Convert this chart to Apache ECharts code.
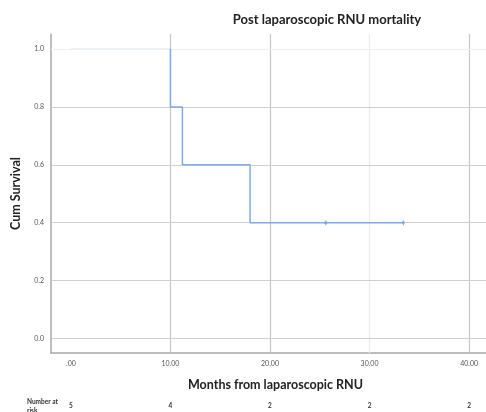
<!DOCTYPE html>
<html><head><meta charset="utf-8">
<script src="https://cdn.jsdelivr.net/npm/echarts@6/dist/echarts.min.js"></script>
<style>html,body{margin:0;padding:0;background:#fff}#c{width:486px;height:412px}</style>
</head><body><div id="c"></div>
<script>
// Kaplan-Meier step points (months, cumulative survival)
var survTimes = [0, 10, 10, 11.2, 11.2, 18, 18, 25.6, 33.4];
var survValues = [1.0, 1.0, 0.8, 0.8, 0.6, 0.6, 0.4, 0.4, 0.4];
// censored observations
var censorTimes = [25.6, 33.4];
var censorValues = [0.4, 0.4];
// axis ticks
var xTicks = [0, 10, 20, 30, 40];
var xTickLabels = ['.00', '10.00', '20.00', '30.00', '40.00'];
var yTicks = [0, 0.2, 0.4, 0.6, 0.8, 1.0];
var yTickLabels = ['0.0', '0.2', '0.4', '0.6', '0.8', '1.0'];
// number at risk under each x tick
var atRisk = ['5', '4', '2', '2', '2'];

var vGridColors = {0: 'rgba(0,0,0,0)', 10: '#c6c6c6', 20: '#c6c6c6', 30: '#ececec', 40: '#c6c6c6'};

var curve = survTimes.map(function (t, i) { return [t, survValues[i]]; });
var chart = echarts.init(document.getElementById('c'));
var FONT = 'Lato';
chart.setOption({
  animation: false,
  backgroundColor: '#fff',
  grid: {left: 51, top: 34, right: 0, bottom: 59},
  graphic: [
    {type: 'text', x: 327, y: 13, style: {text: 'Post laparoscopic RNU mortality', fontFamily: FONT, fontWeight: 'bold', fontSize: 13, fill: '#222', textAlign: 'center'}},
    {type: 'text', x: 27, y: 397, style: {text: 'Number at\nrisk', fontFamily: FONT, fontWeight: 'bold', fontSize: 6.5, lineHeight: 9, fill: '#333'}}
  ],
  xAxis: [{
    type: 'value', min: -2, max: 41.7,
    name: 'Months from laparoscopic RNU', nameLocation: 'middle', nameGap: 25,
    nameTextStyle: {fontFamily: FONT, fontWeight: 'bold', fontSize: 12.5, color: '#222', padding: [0, 0, 0, 14]},
    axisLine: {show: true, onZero: false, lineStyle: {color: '#a8a8a8', width: 1.5}},
    axisTick: {show: false},
    splitLine: {show: false},
    axisLabel: {customValues: xTicks, margin: 7, fontFamily: FONT, fontSize: 7, color: '#555',
      formatter: function (v) { var i = xTicks.indexOf(v); return i >= 0 ? xTickLabels[i] : ''; }}
  }, {
    type: 'value', min: -2, max: 41.7, position: 'bottom', offset: 41,
    axisLine: {show: false}, axisTick: {show: false}, splitLine: {show: false},
    axisLabel: {customValues: xTicks, fontFamily: FONT, fontWeight: 'bold', fontSize: 6.5, color: '#333',
      formatter: function (v) { var i = xTicks.indexOf(v); return i >= 0 ? atRisk[i] : ''; }}
  }],
  yAxis: {
    type: 'value', min: -0.05, max: 1.052,
    name: 'Cum Survival', nameLocation: 'middle', nameGap: 29,
    nameTextStyle: {fontFamily: FONT, fontWeight: 'bold', fontSize: 12.5, color: '#222'},
    axisLine: {show: true, onZero: false, lineStyle: {color: '#a8a8a8', width: 1.5}},
    axisTick: {show: false},
    splitLine: {show: false},
    axisLabel: {customValues: yTicks, margin: 7, fontFamily: FONT, fontSize: 7, color: '#555',
      formatter: function (v) { var i = -1; for (var k = 0; k < yTicks.length; k++) if (Math.abs(yTicks[k] - v) < 1e-9) i = k; return i >= 0 ? yTickLabels[i] : ''; }}
  },
  series: [
    {
      type: 'line', data: [], silent: true,
      markLine: {
        silent: true, symbol: 'none', label: {show: false}, animation: false,
        data: xTicks.map(function (t) { return {xAxis: t, lineStyle: {color: vGridColors[t], width: 1.2, type: 'solid'}}; })
          .concat(yTicks.map(function (t) { return {yAxis: t, lineStyle: {color: t === 1 ? '#f0f0f0' : '#cfcfcf', width: 1.2, type: 'solid'}}; }))
      }
    },
    {
      type: 'line', data: curve.slice(0, 2),
      showSymbol: false, symbol: 'none', lineStyle: {color: '#e3ecf8', width: 1.5}, z: 4
    },
    {
      type: 'line', data: curve.slice(1),
      showSymbol: false, symbol: 'none', lineStyle: {color: '#7eaae6', width: 1.5}, z: 5
    },
    {
      type: 'scatter', data: censorTimes.map(function (t, i) { return [t, censorValues[i]]; }),
      symbol: 'diamond', symbolSize: [3, 6], itemStyle: {color: '#6b9de0'}, z: 6
    }
  ]
});
</script></body></html>
